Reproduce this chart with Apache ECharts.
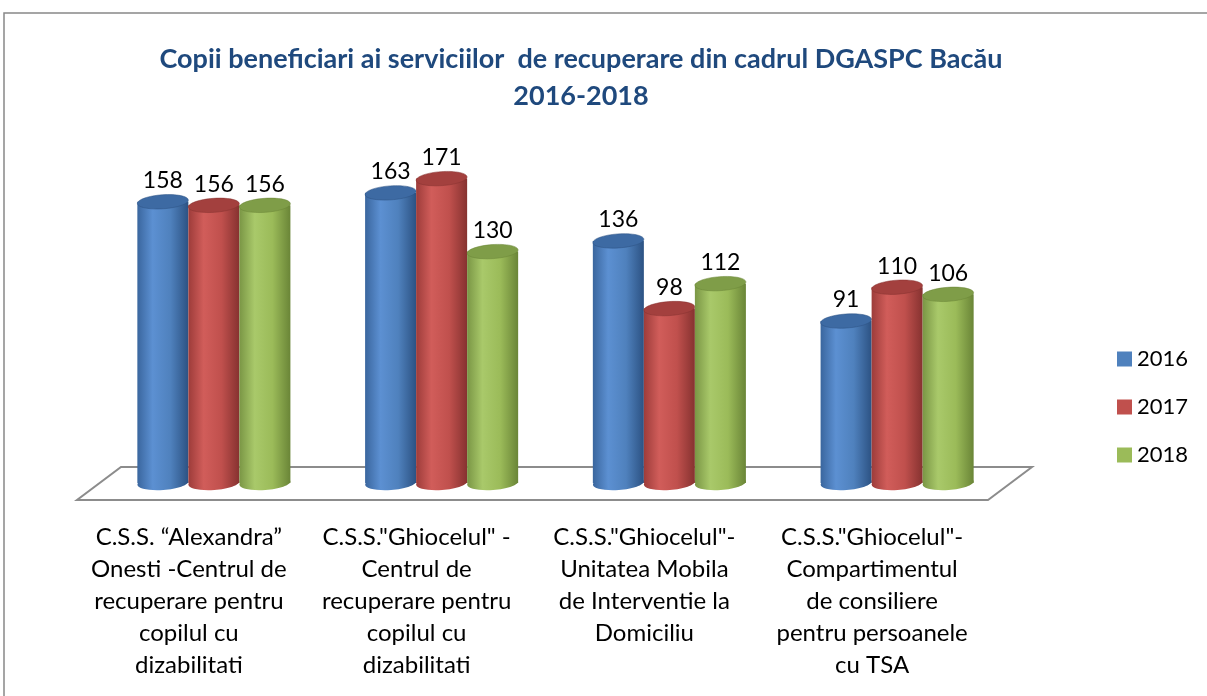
<!DOCTYPE html>
<html lang="ro">

<head>
  <meta charset="UTF-8">
  <meta name="viewport" content="width=device-width, initial-scale=1.0">
  <script src="https://cdn.jsdelivr.net/npm/echarts@6.0.0/dist/echarts.min.js"></script>
  <title>Copii beneficiari DGASPC Bacău</title>
</head>
<style>
  html,
  body {
    margin: 0;
    padding: 0;
    background: #fff;
    overflow: hidden;
  }

  #chart {
    width: 1207px;
    height: 696px;
  }
</style>

<body>
  <div id="chart"></div>
</body>
<script>
  // data
  var categories = [
    'C.S.S. \u201cAlexandra\u201d\nOnesti -Centrul de\nrecuperare pentru\ncopilul cu\ndizabilitati',
    'C.S.S."Ghiocelul" -\nCentrul de\nrecuperare pentru\ncopilul cu\ndizabilitati',
    'C.S.S."Ghiocelul"-\nUnitatea Mobila\nde Interventie la\nDomiciliu',
    'C.S.S."Ghiocelul"-\nCompartimentul\nde consiliere\npentru persoanele\ncu TSA'
  ];
  var years = ['2016', '2017', '2018'];
  var values2016 = [158, 163, 136, 91];
  var values2017 = [156, 171, 98, 110];
  var values2018 = [156, 130, 112, 106];

  var FONT = 'Lato, "Open Sans", sans-serif';

  // base, light, dark edge, top colours per year
  var palette = [
    { base: '#4f81bd', left: '#3a669e', light: '#5c90d2', right: '#2c5283', top: '#3d6aa3' },
    { base: '#c0504d', left: '#9d3c3a', light: '#d15d5a', right: '#863230', top: '#a3403e' },
    { base: '#9bbb59', left: '#7a9645', light: '#a9c96a', right: '#6a8537', top: '#7f9d48' }
  ];

  function sideGradient(c) {
    return new echarts.graphic.LinearGradient(0, 0, 1, 0, [
      { offset: 0, color: c.left },
      { offset: 0.3, color: c.light },
      { offset: 0.65, color: c.base },
      { offset: 1, color: c.right }
    ]);
  }

  function cylinder(idx) {
    var c = palette[idx];
    return function (params, api) {
      var top = api.coord([api.value(0), api.value(1)]);
      var base = api.coord([api.value(0), 0]);
      var band = api.size([1, 0])[0];
      var w = band * 0.224;
      var cx = top[0] + (idx - 1) * w;
      var rx = w / 2, ry = 7;
      var tilt = 0.07;
      return {
        type: 'group',
        children: [
          {
            type: 'group', x: cx, y: base[1], rotation: tilt,
            children: [{ type: 'ellipse', shape: { cx: 0, cy: 0, rx: rx, ry: ry }, style: { fill: sideGradient(c) } }]
          },
          {
            type: 'rect',
            shape: { x: cx - rx, y: top[1], width: w, height: base[1] - top[1] },
            style: { fill: sideGradient(c) }
          },
          {
            type: 'group', x: cx, y: top[1], rotation: tilt,
            children: [{
              type: 'ellipse', shape: { cx: 0, cy: 0, rx: rx, ry: ry },
              style: { fill: c.top, stroke: c.right, lineWidth: 0.5 }
            }]
          },
          {
            type: 'text', x: cx, y: top[1] - 21,
            style: {
              text: String(api.value(1)), fill: '#000', font: '23px ' + FONT,
              align: 'center', verticalAlign: 'middle'
            }
          }
        ]
      };
    };
  }

  function makeSeries(idx, vals) {
    return {
      name: years[idx],
      type: 'custom',
      renderItem: cylinder(idx),
      itemStyle: { color: palette[idx].base },
      encode: { x: 0, y: 1 },
      data: vals.map(function (v, i) { return [i, v]; }),
      z: 5
    };
  }

  var chart = echarts.init(document.getElementById('chart'));
  chart.setOption({
    animation: false,
    graphic: [
      {
        type: 'rect', z: 0,
        shape: { x: 4, y: 13, width: 1250, height: 720 },
        style: { fill: '#fff', stroke: '#888', lineWidth: 1.5 }
      },
      {
        type: 'polygon', z: 1,
        shape: { points: [[121, 467], [1032, 467], [988, 500], [77, 500]] },
        style: { fill: '#fff', stroke: '#8c8c8c', lineWidth: 2 }
      },
      {
        type: 'text', z: 10, x: 581, y: 41,
        style: {
          text: 'Copii beneficiari ai serviciilor  de recuperare din cadrul DGASPC Bacău\n2016-2018',
          font: 'bold 27px ' + FONT, fill: '#1f497d', align: 'center', verticalAlign: 'top',
          lineHeight: 37
        }
      }
    ],
    legend: {
      orient: 'vertical',
      left: 1112,
      top: 343,
      itemWidth: 15,
      itemHeight: 15,
      itemGap: 26,
      icon: 'rect',
      data: years,
      textStyle: { fontSize: 22, fontFamily: FONT, color: '#000' }
    },
    grid: { left: 100, width: 911, top: 127, height: 356 },
    xAxis: {
      type: 'category',
      data: categories,
      axisLine: { show: false },
      axisTick: { show: false },
      axisLabel: {
        interval: 0,
        margin: 38,
        fontSize: 24,
        lineHeight: 32,
        fontFamily: FONT,
        color: '#000',
        padding: [0, 50, 0, 0]
      }
    },
    yAxis: {
      type: 'value',
      min: 0,
      max: 200,
      show: false,
      splitLine: { show: false }
    },
    series: [
      makeSeries(0, values2016),
      makeSeries(1, values2017),
      makeSeries(2, values2018)
    ]
  });
</script>

</html>
